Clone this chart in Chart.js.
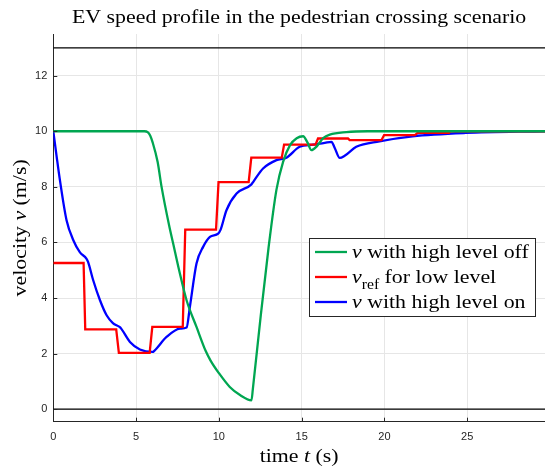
<!DOCTYPE html>
<html>
<head>
<meta charset="utf-8">
<script src="https://cdn.jsdelivr.net/npm/chart.js@4/dist/chart.umd.min.js"></script>
<style>
  html, body { margin: 0; padding: 0; background: #fff; }
  #wrap { width: 545px; height: 468px; }
</style>
</head>
<body>
<div id="wrap"><canvas id="c"></canvas></div>
<script>
/* ---- data --------------------------------------------------------- */
var xTicks = [0, 5, 10, 15, 20, 25];
var yTicks = [0, 2, 4, 6, 8, 10, 12];

var greenT = [0, 5.5, 5.7, 5.85, 6.0, 6.3, 6.54, 7.0, 7.24, 7.6, 8.05, 8.65, 9.2, 9.5, 10.0, 10.66, 11.3, 11.97,
              12.05, 12.5, 13.0, 13.48, 13.88, 14.3, 14.7, 15.09, 15.35, 15.59, 15.9, 16.3, 16.7, 17.7, 19.0, 29.7];
var greenV = [10, 10, 9.97, 9.85, 9.6, 8.9, 8.0, 6.6, 5.96, 5.0, 3.92, 2.96, 2.1, 1.75, 1.3, 0.8, 0.5, 0.32,
              0.7, 3.2, 5.8, 7.9, 8.9, 9.5, 9.75, 9.82, 9.6, 9.32, 9.45, 9.75, 9.88, 9.97, 10, 10];

var refT = [0, 1.83, 1.93, 3.8, 3.96, 5.82, 5.98, 7.82, 7.97, 9.83, 9.98, 11.8, 11.96, 13.8, 13.94,
            15.84, 15.99, 17.8, 17.9, 19.82, 19.98, 21.85, 22.0, 23.9, 24.0, 29.7];
var refV = [5.26, 5.26, 2.87, 2.87, 2.03, 2.03, 2.96, 2.96, 6.46, 6.46, 8.17, 8.17, 9.05, 9.05, 9.52,
            9.52, 9.74, 9.74, 9.68, 9.68, 9.86, 9.86, 9.94, 9.94, 10, 10];

var blueT = [0, 0.2, 0.4, 0.8, 1.21, 1.6, 2.0, 2.1, 2.41, 2.82, 3.22, 3.6, 4.0, 4.1, 4.63, 5.23, 6.0, 6.1,
             6.84, 7.65, 8.05, 8.25, 8.65, 9.05, 9.46, 9.96, 10.1, 10.46, 11.07, 11.97, 12.1, 12.67, 13.48,
             14.08, 14.88, 15.69, 16.4, 16.8, 17.0, 17.3, 17.6, 18.3, 19.7, 21.7, 24.9, 29.7];
var blueV = [10, 9.1, 8.24, 6.8, 6.08, 5.65, 5.42, 5.3, 4.64, 3.92, 3.38, 3.1, 2.96, 2.9, 2.42, 2.15, 2.06, 2.1,
             2.6, 2.9, 2.94, 3.68, 5.24, 5.84, 6.2, 6.32, 6.45, 7.16, 7.76, 8.09, 8.2, 8.66, 8.96,
             9.05, 9.44, 9.52, 9.58, 9.62, 9.4, 9.04, 9.12, 9.44, 9.64, 9.82, 9.94, 10];

var limitT = [0, 29.7];
var upperV = [13, 13];
var lowerV = [0, 0];

/* ---- helpers ------------------------------------------------------ */
var GREEN = "rgb(0,166,81)";
var SERIF = "'Liberation Serif', serif";
var SANS = "'Liberation Sans', Arial, sans-serif";
var STRETCH = 1.12;   /* Times is narrower than the LaTeX face in the original */

function pts(ts, vs) {
  return ts.map(function (t, i) { return { x: t, y: vs[i] }; });
}

function curve(ts, vs, color, smooth, width) {
  return {
    data: pts(ts, vs),
    borderColor: color,
    backgroundColor: color,
    borderWidth: width || 2.3,
    pointRadius: 0,
    tension: 0,
    cubicInterpolationMode: smooth ? "monotone" : "default",
  };
}

/* runs of [text, italic, subscript], left to right */
function setFont(ctx, p, size) {
  var s = p[2] ? size * 0.72 : size;
  ctx.font = (p[1] ? "italic " : "") + s + "px " + SERIF;
}
function runsWidth(ctx, parts, size) {
  var w = 0;
  parts.forEach(function (p) { setFont(ctx, p, size); w += ctx.measureText(p[0]).width * STRETCH; });
  return w;
}
function runs(ctx, parts, x, y, size) {
  parts.forEach(function (p) {
    setFont(ctx, p, size);
    ctx.save();
    ctx.translate(x, y + (p[2] ? size * 0.3 : 0));
    ctx.scale(STRETCH, 1);
    ctx.fillText(p[0], 0, 0);
    ctx.restore();
    x += ctx.measureText(p[0]).width * STRETCH;
  });
}

/* ---- inward tick marks, title, axis titles, legend ---------------- */
var decor = {
  id: "decor",
  afterDraw: function (chart) {
    var ctx = chart.ctx, a = chart.chartArea;
    var sx = chart.scales.x, sy = chart.scales.y;
    var cx = (a.left + a.right) / 2;
    ctx.save();

    ctx.strokeStyle = "#262626";
    ctx.lineWidth = 1;
    ctx.beginPath();
    xTicks.forEach(function (v) {
      var px = Math.round(sx.getPixelForValue(v)) + 0.5;
      ctx.moveTo(px, a.bottom);
      ctx.lineTo(px, a.bottom - 4);
    });
    yTicks.forEach(function (v) {
      var py = Math.round(sy.getPixelForValue(v)) + 0.5;
      ctx.moveTo(a.left, py);
      ctx.lineTo(a.left + 4, py);
    });
    ctx.stroke();

    ctx.fillStyle = "#000";
    ctx.textBaseline = "alphabetic";
    ctx.textAlign = "left";

    var title = [["EV speed profile in the pedestrian crossing scenario", false]];
    runs(ctx, title, cx - runsWidth(ctx, title, 19.5) / 2, 23, 19.5);

    var xl = [["time ", false], ["t", true], [" (s)", false]];
    runs(ctx, xl, cx - runsWidth(ctx, xl, 19.5) / 2, 462, 19.5);

    var yl = [["velocity ", false], ["v", true], [" (m/s)", false]];
    ctx.save();
    ctx.translate(26, (a.top + a.bottom) / 2);
    ctx.rotate(-Math.PI / 2);
    runs(ctx, yl, -runsWidth(ctx, yl, 19.5) / 2, 0, 19.5);
    ctx.restore();

    // legend box
    var bx = 309, by = 238, bw = 226, bh = 78;
    ctx.fillStyle = "#fff";
    ctx.fillRect(bx, by, bw, bh);
    ctx.strokeStyle = "#262626";
    ctx.lineWidth = 1;
    ctx.strokeRect(bx + 0.5, by + 0.5, bw, bh);

    var items = [
      [GREEN, [["v", true], [" with high level off", false]]],
      ["#ff0000", [["v", true], ["ref", false, true], [" for low level", false]]],
      ["#0000ff", [["v", true], [" with high level on", false]]],
    ];
    items.forEach(function (it, i) {
      var y = 252 + i * 25;
      ctx.strokeStyle = it[0];
      ctx.lineWidth = 2.3;
      ctx.beginPath();
      ctx.moveTo(315, y);
      ctx.lineTo(347, y);
      ctx.stroke();
      ctx.fillStyle = "#000";
      runs(ctx, it[1], 352, y + 6, 19.5);
    });
    ctx.restore();
  },
};

/* ---- chart -------------------------------------------------------- */
new Chart(document.getElementById("c"), {
  type: "line",
  data: {
    datasets: [
      curve(limitT, upperV, "#000", false, 1.3),
      curve(limitT, lowerV, "#000", false, 1.3),
      curve(greenT, greenV, GREEN, true),
      curve(refT, refV, "#ff0000", false),
      curve(blueT, blueV, "#0000ff", true),
    ],
  },
  options: {
    responsive: true,
    maintainAspectRatio: false,
    animation: false,
    layout: { padding: { top: 34, right: 0, left: 0, bottom: 0 } },
    plugins: { legend: { display: false }, title: { display: false }, tooltip: { enabled: false } },
    scales: {
      x: {
        type: "linear",
        min: 0,
        max: 29.7,
        afterBuildTicks: function (s) { s.ticks = xTicks.map(function (v) { return { value: v }; }); },
        afterFit: function (s) { s.height = 46.3; },
        grid: { color: "#e6e6e6", drawTicks: false },
        border: { display: true, color: "#262626", width: 1 },
        ticks: { padding: 9, color: "#262626", font: { family: SANS, size: 11 }, maxRotation: 0 },
      },
      y: {
        type: "linear",
        min: -0.45,
        max: 13.5,
        afterBuildTicks: function (s) { s.ticks = yTicks.map(function (v) { return { value: v }; }); },
        afterFit: function (s) { s.width = 53.3; },
        grid: { color: "#e6e6e6", drawTicks: false },
        border: { display: true, color: "#262626", width: 1 },
        ticks: { padding: 6, color: "#262626", font: { family: SANS, size: 11 } },
      },
    },
  },
  plugins: [decor],
});
</script>
</body>
</html>
